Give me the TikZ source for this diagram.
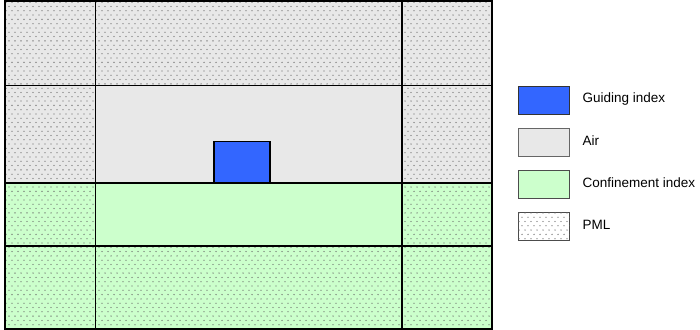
\documentclass[tikz,border=0pt]{standalone}
\usepackage{fontspec}
\setmainfont{Liberation Sans}
\usetikzlibrary{patterns.meta}
\definecolor{airc}{HTML}{E8E8E8}
\definecolor{confc}{HTML}{CCFFCC}
\definecolor{guidec}{HTML}{3366FF}
\tikzdeclarepattern{name=pmldots, type=uncolored,
  bottom left={(-1pt,-1pt)}, top right={(5pt,8pt)}, tile size={(6pt,8.6pt)},
  code={\fill (0pt,0pt) circle (0.65pt); \fill (3pt,4.3pt) circle (0.65pt);}}
\tikzset{
  grid/.style={draw=black, line width=1.8pt},
  pml/.style={pattern={pmldots}, pattern color=black!60},
  legbox/.style={draw=black!70, line width=0.9pt, minimum width=51pt, minimum height=28pt, inner sep=0pt, anchor=north west},
  legtext/.style={anchor=west, font=\fontsize{13.5}{15}\selectfont, inner sep=0pt},
}
\begin{document}
\begin{tikzpicture}[x=1pt,y=-1pt]
\useasboundingbox (0,0) rectangle (700,329);
% backgrounds
\fill[airc] (5,1) rectangle (492,183);
\fill[confc] (5,183) rectangle (492,329);
% PML dots
\fill[pml] (5,1) rectangle (492,85.5);
\fill[pml] (5,246) rectangle (492,329);
\fill[pml] (5,85.5) rectangle (95.5,246);
\fill[pml] (402,85.5) rectangle (492,246);
% guiding core
\node[draw=black, line width=1.5pt, fill=guidec, minimum width=56pt, minimum height=41pt, inner sep=0pt, anchor=south west] (core) at (213,183) {};
% grid
\draw[grid] (5,1) rectangle (492,329);
\draw[grid] (95.5,1) -- (95.5,329);
\draw[grid] (402,1) -- (402,329);
\draw[grid] (5,85.5) -- (492,85.5);
\draw[grid] (5,183) -- (492,183);
\draw[grid] (5,246) -- (492,246);
% legend
\node[legbox, fill=guidec, draw=black!80] (lg) at (518,86) {};
\node[legbox, fill=airc, draw=black!60] (la) at (518,127.5) {};
\node[legbox, fill=confc, draw=black!70] (lc) at (518,169.5) {};
\node[legbox, fill=white, draw=black!70] (lp) at (518,211.5) {};
\fill[pml] (lp.north west) rectangle (lp.south east);
\node[legtext] (tg) at (582.5,99) {Guiding index};
\node[legtext] (ta) at (582.5,141) {Air};
\node[legtext] (tc) at (582.5,183) {Confinement index};
\node[legtext] (tp) at (582.5,225) {PML};
\end{tikzpicture}
\end{document}
